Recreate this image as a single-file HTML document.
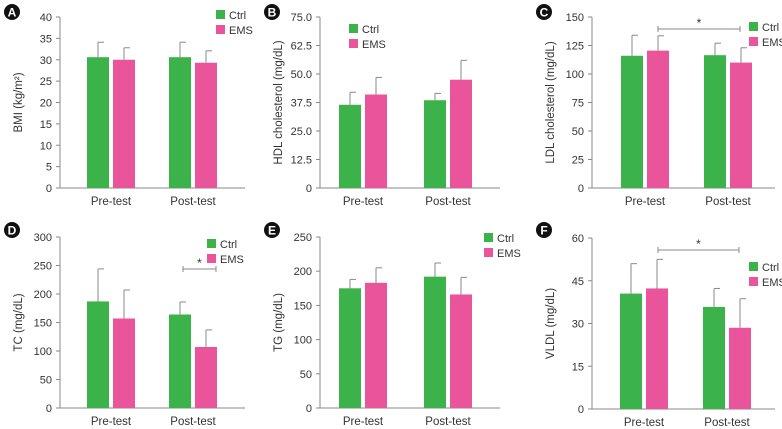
<!DOCTYPE html>
<html><head><meta charset="utf-8"><style>
body{margin:0;background:#fff;}
svg{display:block;font-family:"Liberation Sans",sans-serif;}
</style></head><body>
<svg id="c" width="782" height="429" viewBox="0 0 782 429"></svg>
<script>
const groups = ["Pre-test","Post-test"];
const bmiCtrl=[30.6,30.6], bmiCtrlErr=[3.5,3.5], bmiEms=[30.0,29.3], bmiEmsErr=[2.8,2.8];
const hdlCtrl=[36.5,38.5], hdlCtrlErr=[5.5,3.0], hdlEms=[41.0,47.5], hdlEmsErr=[7.5,8.5];
const ldlCtrl=[116,116.5], ldlCtrlErr=[18,10.5], ldlEms=[120.5,110], ldlEmsErr=[13,13];
const tcCtrl=[187,164], tcCtrlErr=[57,22], tcEms=[157,107], tcEmsErr=[50,30];
const tgCtrl=[175,192], tgCtrlErr=[13,20], tgEms=[183,166], tgEmsErr=[22,25];
const vldlCtrl=[40.5,35.8], vldlCtrlErr=[10.5,6.5], vldlEms=[42.3,28.5], vldlEmsErr=[10.2,10.2];
const bmiTicks=[0,5,10,15,20,25,30,35,40];
const hdlTicks=["0","12.5","25.0","37.5","50.0","62.5","75.0"];
const ldlTicks=[0,25,50,75,100,125,150];
const tcTicks=[0,50,100,150,200,250,300];
const tgTicks=[0,50,100,150,200,250];
const vldlTicks=[0,15,30,45,60];

const G="#3bb34a", P="#e9549a", AX="#8a8a8a";
const svg=document.getElementById('c');
const NS="http://www.w3.org/2000/svg";
function mk(t,a,txt){const e=document.createElementNS(NS,t);for(const k in a)e.setAttribute(k,a[k]);if(txt!==undefined)e.textContent=txt;svg.appendChild(e);return e;}

const panels=[
 {L:"A",lx:12,ly:12,ax:60,top:17,bot:188,xend:245,ticks:bmiTicks,c:bmiCtrl,ce:bmiCtrlErr,e:bmiEms,ee:bmiEmsErr,bx:[87,169],title:"BMI (kg/m²)",leg:[216,10],sig:null},
 {L:"B",lx:272,ly:12,ax:320,top:17,bot:188,xend:500,ticks:hdlTicks,c:hdlCtrl,ce:hdlCtrlErr,e:hdlEms,ee:hdlEmsErr,bx:[339,424],title:"HDL cholesterol (mg/dL)",leg:[349,24],sig:null},
 {L:"C",lx:544,ly:12,ax:592,top:17,bot:188,xend:775,ticks:ldlTicks,c:ldlCtrl,ce:ldlCtrlErr,e:ldlEms,ee:ldlEmsErr,bx:[621,704],title:"LDL cholesterol (mg/dL)",leg:[749,22],sig:[658,740,29]},
 {L:"D",lx:12,ly:230,ax:60,top:237,bot:408,xend:245,ticks:tcTicks,c:tcCtrl,ce:tcCtrlErr,e:tcEms,ee:tcEmsErr,bx:[87,169],title:"TC (mg/dL)",leg:[207,239],sig:[183,216,269]},
 {L:"E",lx:272,ly:230,ax:320,top:237,bot:408,xend:500,ticks:tgTicks,c:tgCtrl,ce:tgCtrlErr,e:tgEms,ee:tgEmsErr,bx:[339,424],title:"TG (mg/dL)",leg:[484,233],sig:null},
 {L:"F",lx:544,ly:230,ax:592,top:238,bot:409,xend:775,ticks:vldlTicks,c:vldlCtrl,ce:vldlCtrlErr,e:vldlEms,ee:vldlEmsErr,bx:[620,703],title:"VLDL (mg/dL)",leg:[749,262],sig:[658,739,250]}
];
panels.forEach(p=>{
  const tv=p.ticks.map(Number), max=tv[tv.length-1];
  const y=v=>p.bot-(v/max)*(p.bot-p.top);
  const c=mk('circle',{cx:p.lx,cy:p.ly,r:8,fill:'#111'});
  
  mk('text',{x:p.lx,y:p.ly+4.5,'text-anchor':'middle','font-size':12,'font-weight':'bold',fill:'#fff'},p.L);
  const ya=mk('line',{x1:p.ax,y1:p.top,x2:p.ax,y2:p.bot,stroke:AX,'stroke-width':1});
  
  p.ticks.forEach((t,i)=>{
    const yy=y(tv[i]);
    mk('line',{x1:p.ax-4,y1:yy,x2:p.ax,y2:yy,stroke:AX});
    const tl=mk('text',{x:p.ax-8,y:yy+4,'text-anchor':'end','font-size':11,fill:'#333'},t);
    
  });
  const yt=mk('text',{transform:`translate(${p.ax-38},${(p.top+p.bot)/2}) rotate(-90)`,'text-anchor':'middle','font-size':11.5,fill:'#333'},p.title);
  
  const xa=mk('line',{x1:p.ax,y1:p.bot,x2:p.xend,y2:p.bot,stroke:AX,'stroke-width':1});
  
  groups.forEach((g,i)=>{
    const x0=p.bx[i];
    [[p.c,p.ce,G,0,'ctrl'],[p.e,p.ee,P,26,'ems']].forEach(([v,e,col,off,nm])=>{
      const bx=x0+off, w=22, cx=bx+w/2;
      mk('line',{x1:cx,y1:y(v[i]),x2:cx,y2:y(v[i]+e[i]),stroke:AX});
      mk('line',{x1:cx,y1:y(v[i]+e[i]),x2:cx+6,y2:y(v[i]+e[i]),stroke:AX});
      const r=mk('rect',{x:bx,y:y(v[i]),width:w,height:p.bot-y(v[i]),fill:col});
      
    });
    const xl=mk('text',{x:x0+24,y:p.bot+17,'text-anchor':'middle','font-size':11.5,fill:'#333'},g);
    
  });
  [[G,'Ctrl'],[P,'EMS']].forEach(([col,t],i)=>{
    const ly=p.leg[1]+i*15;
    const s=mk('rect',{x:p.leg[0],y:ly,width:9,height:9,fill:col});
    
    const lt=mk('text',{x:p.leg[0]+13,y:ly+9,'font-size':11,fill:'#333'},t);
    
  });
  if(p.sig){
    const [a,b,sy]=p.sig;
    const sl=mk('line',{x1:a,y1:sy,x2:b,y2:sy,stroke:AX});
    
    mk('line',{x1:a,y1:sy-3,x2:a,y2:sy+3,stroke:AX});
    mk('line',{x1:b,y1:sy-3,x2:b,y2:sy+3,stroke:AX});
    const st=mk('text',{x:(a+b)/2,y:sy-2,'text-anchor':'middle','font-size':12,fill:'#333'},'*');
    
  }
});
</script>
</body></html>
